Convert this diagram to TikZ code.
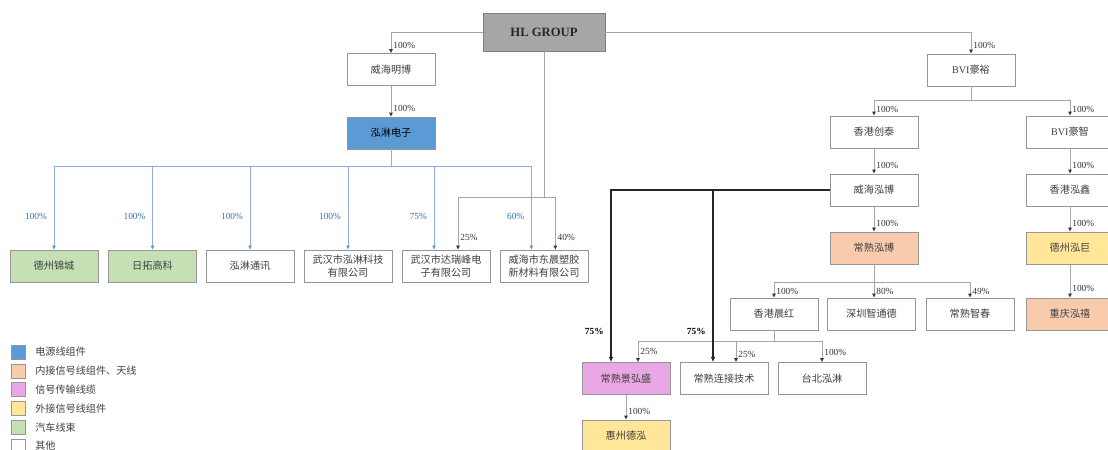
\documentclass[tikz,border=0pt]{standalone}
\usepackage{fontspec}
\setmainfont{Liberation Serif}
\newfontfamily\cjk{Noto Sans CJK SC}
\usetikzlibrary{arrows.meta}
\definecolor{boxline}{RGB}{150,150,150}
\definecolor{linkgray}{RGB}{165,165,165}
\definecolor{groupgray}{RGB}{166,166,166}
\definecolor{powerblue}{RGB}{91,155,213}
\definecolor{innerorange}{RGB}{248,203,173}
\definecolor{signalpink}{RGB}{234,167,230}
\definecolor{outeryellow}{RGB}{255,230,153}
\definecolor{autogreen}{RGB}{197,224,180}
\definecolor{bluelink}{RGB}{143,170,220}
\definecolor{bluetext}{RGB}{46,117,182}

\tikzset{
  company/.style={draw=boxline, fill=white, minimum width=66pt, minimum height=24pt,
    inner sep=1pt, align=center, text=black!75, font=\cjk\fontsize{7.6}{9.5}\selectfont},
  pct/.style={font=\fontsize{7}{8}\selectfont, text=black!80, inner sep=1pt},
  tip/.style={pct, anchor=west, xshift=0.5pt, yshift=6pt},
  bluepct/.style={pct, text=bluetext, left=4pt},
  boldpct/.style={pct, font=\bfseries\fontsize{7}{8}\selectfont, text=black, left=4pt},
  own/.style={draw=linkgray, line width=0.6pt, -{Latex[length=3pt,width=3pt,color=black!80]}},
  ownblue/.style={draw=bluelink, line width=0.6pt, -{Latex[length=3pt,width=3pt,color=powerblue]}},
  ownbold/.style={draw=black!85, line width=1.1pt, -{Latex[length=4pt,width=3.5pt]}},
  trunk/.style={draw=linkgray, line width=0.6pt},
  legendkey/.style={draw=boxline, minimum size=10.5pt, inner sep=0pt},
  legendtext/.style={anchor=west, inner sep=0pt, text=black!75, font=\cjk\fontsize{7.6}{9}\selectfont},
}

\begin{document}
\begin{tikzpicture}[x=0.75pt, y=-0.75pt]
\useasboundingbox (0,0) rectangle (1108,450);
\clip (0,0) rectangle (1108,450);

% top
\node[company, fill=groupgray, draw=black!50, minimum width=91.5pt, minimum height=28.5pt,
  font=\bfseries\fontsize{9.5}{11}\selectfont, text=black!85] (hl) at (544,32) {HL GROUP};

% left branch
\node[company] (wmb) at (391,69.5) {威海明博};
\node[company, fill=powerblue, text=black] (hldz) at (391,133) {泓淋电子};

\node[company, fill=autogreen] (dzjc) at (54,266) {德州锦城};
\node[company, fill=autogreen] (rtgk) at (152.5,266) {日拓高科};
\node[company] (hltx) at (250,266) {泓淋通讯};
\node[company] (whhl) at (348,266) {武汉市泓淋科技\\有限公司};
\node[company] (whdr) at (446,266) {武汉市达瑞峰电\\子有限公司};
\node[company] (whdc) at (544,266) {威海市东晨塑胶\\新材料有限公司};

% right branch
\node[company] (bvihy) at (971,70) {{\rmfamily BVI}豪裕};
\node[company] (hkct) at (874,132) {香港创泰};
\node[company] (bvihz) at (1070,132) {{\rmfamily BVI}豪智};
\node[company] (whhb) at (874,190) {威海泓博};
\node[company] (hkhx) at (1070,190) {香港泓鑫};
\node[company, fill=innerorange] (cshb) at (874,248) {常熟泓博};
\node[company, fill=outeryellow] (dzhj) at (1070,248) {德州泓巨};
\node[company] (hkch) at (774,314) {香港晨红};
\node[company] (szztd) at (871.5,314) {深圳智通德};
\node[company] (cszc) at (970,314) {常熟智春};
\node[company, fill=innerorange] (cqhx) at (1070,314) {重庆泓禧};
\node[company, fill=signalpink] (csjhs) at (626,378.5) {常熟景弘盛};
\node[company] (cslj) at (724,378.5) {常熟连接技术};
\node[company] (tbhl) at (822,378.5) {台北泓淋};
\node[company, fill=outeryellow] (hzdh) at (626,436) {惠州德泓};

% HL GROUP holdings
\draw[own] (hl.west) -| (wmb.north) node[tip] {100\%};
\draw[own] (wmb.south) -- (hldz.north) node[tip] {100\%};
\draw[own] (hl.east) -| (bvihy.north) node[tip] {100\%};
\coordinate (hlsplit) at (hl.south |- 0,197);
\draw[trunk] (hl.south) -- (hlsplit);
\draw[own] (hlsplit) -| ([xshift=9pt]whdr.north) node[tip, yshift=3pt] {25\%};
\draw[own] (hlsplit) -| ([xshift=8.5pt]whdc.north) node[tip, yshift=3pt] {40\%};

% 泓淋电子 holdings
\coordinate (bsplit) at (hldz.south |- 0,166);
\draw[bluelink, line width=0.6pt] (hldz.south) -- (bsplit);
\foreach \n in {dzjc,rtgk,hltx,whhl}
  \draw[ownblue] (bsplit) -| node[bluepct, pos=0.8] {100\%} (\n.north);
\draw[ownblue] (bsplit) -| node[bluepct, pos=0.8] {75\%} ([xshift=-9pt]whdr.north);
\draw[ownblue] (bsplit) -| node[bluepct, pos=0.8] {60\%} ([xshift=-9.5pt]whdc.north);

% BVI豪裕 holdings
\coordinate (ysplit) at (bvihy.south |- 0,100);
\draw[trunk] (bvihy.south) -- (ysplit);
\draw[own] (ysplit) -| (hkct.north) node[tip, yshift=-1.5pt] {100\%};
\draw[own] (ysplit) -| (bvihz.north) node[tip, yshift=-1.5pt] {100\%};
\draw[own] (hkct.south) -- (whhb.north) node[tip] {100\%};
\draw[own] (whhb.south) -- (cshb.north) node[tip] {100\%};
\draw[own] (bvihz.south) -- (hkhx.north) node[tip] {100\%};
\draw[own] (hkhx.south) -- (dzhj.north) node[tip] {100\%};
\draw[own] (dzhj.south) -- (cqhx.north) node[tip, yshift=1pt] {100\%};

% 常熟泓博 holdings
\coordinate (csplit) at (cshb.south |- 0,282);
\draw[trunk] (cshb.south) -- (csplit);
\draw[own] (csplit) -| (hkch.north) node[tip, yshift=-1.5pt] {100\%};
\draw[own] (csplit) -- (cshb.south |- szztd.north) node[tip, yshift=-1.5pt] {80\%};
\draw[own] (csplit) -| (cszc.north) node[tip, yshift=-1.5pt] {49\%};

% 香港晨红 holdings
\coordinate (hsplit) at (hkch.south |- 0,341);
\draw[trunk] (hkch.south) -- (hsplit);
\draw[own] (hsplit) -| ([xshift=9pt]csjhs.north) node[tip, yshift=2pt] {25\%};
\draw[own] (hsplit) -| ([xshift=9pt]cslj.north) node[tip, yshift=0pt] {25\%};
\draw[own] (hsplit) -| (tbhl.north) node[tip, yshift=1pt] {100\%};

% 威海泓博 holdings
\draw[ownbold] (whhb.west) -| node[boldpct, pos=0.91] {75\%} ([xshift=-11.25pt]csjhs.north);
\draw[ownbold] (whhb.west) -| node[boldpct, pos=0.91] {75\%} ([xshift=-8.25pt]cslj.north);
\draw[own] (csjhs.south) -- (hzdh.north) node[tip, yshift=0pt] {100\%};

% legend
\foreach \c/\t [count=\i] in {powerblue/电源线组件, innerorange/内接信号线组件、天线,
    signalpink/信号传输线缆, outeryellow/外接信号线组件, autogreen/汽车线束, white/其他} {
  \node[legendkey, fill=\c] (key\i) at (18,{352+18.8*(\i-1)}) {};
  \node[legendtext] at (35,{352+18.8*(\i-1)}) {\t};
}
\end{tikzpicture}
\end{document}
